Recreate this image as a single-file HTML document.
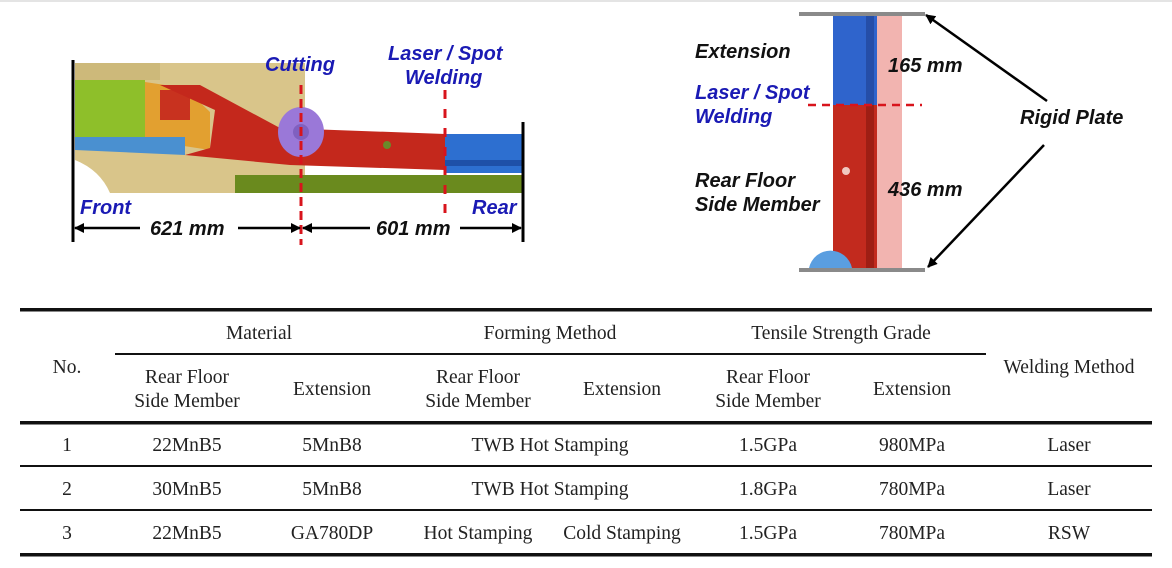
<!DOCTYPE html>
<html><head><meta charset="utf-8"><style>
html,body{margin:0;padding:0;background:#fff;width:1172px;height:568px;overflow:hidden}
svg{display:block}
.b{font-family:"Liberation Sans",Arial,sans-serif;font-weight:bold;font-style:italic;font-size:20px}
.t{font-family:"Liberation Serif","Times New Roman",serif;font-size:19.5px;fill:#222}
</style></head><body>
<svg width="1172" height="568" viewBox="0 0 1172 568" xmlns="http://www.w3.org/2000/svg">
<defs>
<marker id="ah" markerWidth="10" markerHeight="10" refX="9" refY="5" orient="auto" markerUnits="userSpaceOnUse"><path d="M0,0 L10,5 L0,10 z" fill="#000"/></marker>
</defs>
<rect x="0" y="0" width="1172" height="2" fill="#e4e4e4"/>
<!-- left diagram -->
<rect x="75" y="63" width="230" height="130" fill="#d9c58a"/>
<path d="M75,63 L160,63 L160,80 L75,80 z" fill="#cdb97a"/>
<path d="M75,80 L145,80 L145,137 L75,137 z" fill="#8ebf2a"/>
<path d="M145,82 L185,88 L210,112 L210,150 L145,140 z" fill="#e2a030"/>
<path d="M160,90 L190,90 L190,120 L160,120 z" fill="#c8321f"/>
<path d="M75,137 L185,137 L185,155 L75,150 z" fill="#4a90d0"/>
<path d="M235,175 L522,175 L522,193 L235,193 z" fill="#6a8a1e"/>
<path d="M160,85 L200,85 L280,128 L445,134 L445,170 L290,165 L185,155 L210,148 L215,110 Z" fill="#c4281c"/>
<path d="M445,134 L522,134 L522,173 L445,173 z" fill="#2d6fd0"/>
<path d="M445,160 L522,160 L522,166 L445,166 z" fill="#1e50a8"/>
<ellipse cx="301" cy="132" rx="23" ry="25" fill="#9a78d8"/>
<circle cx="301" cy="132" r="8" fill="#8060c0"/>
<circle cx="387" cy="145" r="4" fill="#6a8a2a"/>
<path d="M75,160 Q100,170 110,193 L75,193 z" fill="#fff"/>
<line x1="73" y1="60" x2="73" y2="242" stroke="#000" stroke-width="3"/>
<line x1="523" y1="122" x2="523" y2="242" stroke="#000" stroke-width="3"/>
<line x1="301" y1="85" x2="301" y2="245" stroke="#d8141c" stroke-width="3" stroke-dasharray="9,5"/>
<line x1="445" y1="90" x2="445" y2="218" stroke="#d8141c" stroke-width="3" stroke-dasharray="9,10"/>
<line x1="140" y1="228" x2="75" y2="228" stroke="#000" stroke-width="2.5" marker-end="url(#ah)"/>
<line x1="238" y1="228" x2="300" y2="228" stroke="#000" stroke-width="2.5" marker-end="url(#ah)"/>
<line x1="370" y1="228" x2="303" y2="228" stroke="#000" stroke-width="2.5" marker-end="url(#ah)"/>
<line x1="460" y1="228" x2="521" y2="228" stroke="#000" stroke-width="2.5" marker-end="url(#ah)"/>
<text class="b" x="150" y="235" fill="#111">621 mm</text>
<text class="b" x="376" y="235" fill="#111">601 mm</text>
<text class="b" x="80" y="214" fill="#1a1ab4">Front</text>
<text class="b" x="472" y="214" fill="#1a1ab4">Rear</text>
<text class="b" x="265" y="71" fill="#1a1ab4">Cutting</text>
<text class="b" x="388" y="60" fill="#1a1ab4">Laser / Spot</text>
<text class="b" x="405" y="84" fill="#1a1ab4">Welding</text>
<!-- right diagram -->
<rect x="876" y="16" width="26" height="253" fill="#f2b4b0"/>
<rect x="833" y="16" width="44" height="89" fill="#2f64cc"/>
<rect x="866" y="16" width="8" height="89" fill="#254ea8"/>
<rect x="833" y="105" width="44" height="163" fill="#c22a1e"/>
<rect x="866" y="105" width="8" height="163" fill="#9e1e14"/>
<circle cx="846" cy="171" r="4" fill="#f0c8c0"/>
<path d="M809,268 A22,22 0 0 1 852,268 z" fill="#5a9ee0"/>
<rect x="799" y="12" width="126" height="4" fill="#8a8a8a"/>
<rect x="799" y="268" width="126" height="4" fill="#8a8a8a"/>
<line x1="808" y1="105" x2="922" y2="105" stroke="#d8141c" stroke-width="2.5" stroke-dasharray="8,6"/>
<line x1="1047" y1="101" x2="926" y2="15" stroke="#000" stroke-width="2.5" marker-end="url(#ah)"/>
<line x1="1044" y1="145" x2="928" y2="267" stroke="#000" stroke-width="2.5" marker-end="url(#ah)"/>
<text class="b" x="695" y="58" fill="#111">Extension</text>
<text class="b" x="695" y="99" fill="#1a1ab4">Laser / Spot</text>
<text class="b" x="695" y="123" fill="#1a1ab4">Welding</text>
<text class="b" x="695" y="187" fill="#111">Rear Floor</text>
<text class="b" x="695" y="211" fill="#111">Side Member</text>
<text class="b" x="888" y="72" fill="#111">165 mm</text>
<text class="b" x="888" y="196" fill="#111">436 mm</text>
<text class="b" x="1020" y="124" fill="#111">Rigid Plate</text>
<!-- table -->
<rect x="20" y="308" width="1132" height="3.5" fill="#111"/>
<rect x="115" y="353" width="871" height="2" fill="#111"/>
<rect x="20" y="421" width="1132" height="3.5" fill="#111"/>
<rect x="20" y="465" width="1132" height="2" fill="#111"/>
<rect x="20" y="509" width="1132" height="2" fill="#111"/>
<rect x="20" y="553" width="1132" height="3.5" fill="#111"/>
<g class="t" text-anchor="middle">
<text x="259" y="339">Material</text>
<text x="550" y="339">Forming Method</text>
<text x="841" y="339">Tensile Strength Grade</text>
<text x="67" y="373">No.</text>
<text x="1069" y="373">Welding Method</text>
<text x="187" y="383">Rear Floor</text><text x="187" y="407">Side Member</text>
<text x="332" y="395">Extension</text>
<text x="478" y="383">Rear Floor</text><text x="478" y="407">Side Member</text>
<text x="622" y="395">Extension</text>
<text x="768" y="383">Rear Floor</text><text x="768" y="407">Side Member</text>
<text x="912" y="395">Extension</text>
<text x="67" y="451">1</text><text x="187" y="451">22MnB5</text><text x="332" y="451">5MnB8</text><text x="550" y="451">TWB Hot Stamping</text><text x="768" y="451">1.5GPa</text><text x="912" y="451">980MPa</text><text x="1069" y="451">Laser</text>
<text x="67" y="495">2</text><text x="187" y="495">30MnB5</text><text x="332" y="495">5MnB8</text><text x="550" y="495">TWB Hot Stamping</text><text x="768" y="495">1.8GPa</text><text x="912" y="495">780MPa</text><text x="1069" y="495">Laser</text>
<text x="67" y="539">3</text><text x="187" y="539">22MnB5</text><text x="332" y="539">GA780DP</text><text x="478" y="539">Hot Stamping</text><text x="622" y="539">Cold Stamping</text><text x="768" y="539">1.5GPa</text><text x="912" y="539">780MPa</text><text x="1069" y="539">RSW</text>
</g>
</svg>
</body></html>
